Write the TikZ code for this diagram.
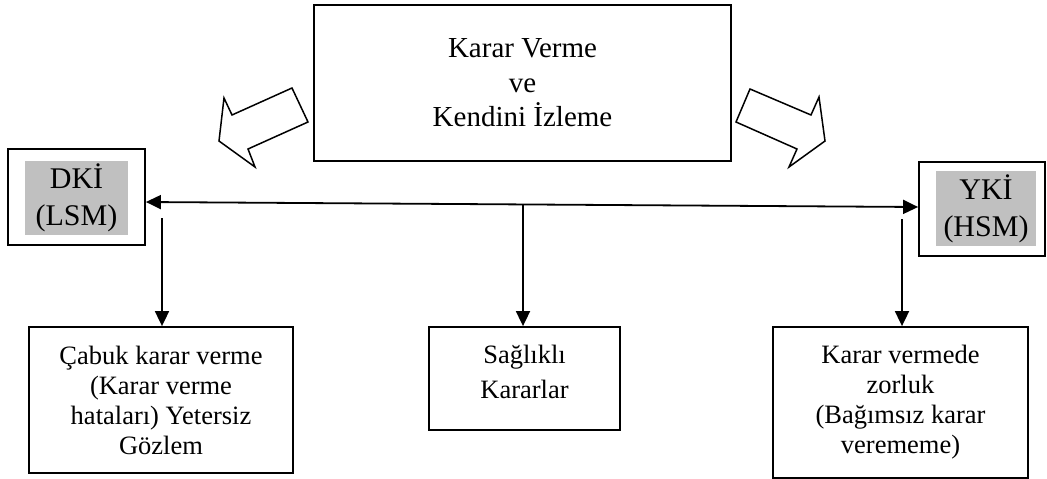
\documentclass[tikz,border=0pt]{standalone}
\usepackage{fontspec}
\setmainfont{Liberation Serif}
\usetikzlibrary{arrows.meta,calc}
\definecolor{boxgray}{RGB}{192,192,192}
\begin{document}
\begin{tikzpicture}[x=1pt,y=-1pt,
  frame/.style={draw=black, line width=1.8pt, rectangle, inner sep=0pt, align=center},
  shade/.style={fill=boxgray, rectangle, inner sep=0pt, align=center},
  tip/.style={line width=1.8pt},
  link/.style={tip, -{Triangle[length=15pt,width=14pt]}},
  both/.style={tip, {Triangle[length=15pt,width=14pt]}-{Triangle[length=15pt,width=14pt]}},
  hollow/.style={draw=black, line width=1.5pt, line join=miter, fill=white},
  bodytext/.style={font=\fontsize{26.5}{30}\selectfont},
  labeltext/.style={font=\fontsize{30}{37}\selectfont}]
\useasboundingbox (0,0) rectangle (1047,479);

% central topic
\node[frame, minimum width=417pt, minimum height=156pt,
      font=\fontsize{29}{34.5}\selectfont] (top) at (522.5,83)
      {Karar Verme\\ve\\Kendini İzleme};

% hollow block arrows pointing to both ends
\draw[hollow] (292,88) -- (308,122) -- (248,149) -- (255,167) -- (219,141)
              -- (224,98) -- (232,115) -- cycle;
\draw[hollow] (750,89) -- (811,115) -- (819,97) -- (825,141) -- (789,167)
              -- (797,149) -- (736,122) -- cycle;

% end labels: framed box with grey field
\node[frame, minimum width=137pt, minimum height=96pt] (dki) at (76.5,197) {};
\node[shade, labeltext, minimum width=103pt, minimum height=74pt] (dkilabel) at (76.5,198) {DKİ\\(LSM)};
\node[frame, minimum width=126pt, minimum height=94pt] (yki) at (982,209) {};
\node[shade, labeltext, minimum width=100pt, minimum height=75pt] (ykilabel) at (986,208.5) {YKİ\\(HSM)};

% outcome boxes
\node[frame, bodytext, minimum width=264pt, minimum height=146pt] (fast) at (161,400)
      {Çabuk karar verme\\(Karar verme\\hataları) Yetersiz\\Gözlem};
\node[frame, minimum width=191pt, minimum height=103pt] (healthy) at (524.5,378.5) {};
\node[bodytext, align=center, inner sep=0pt] (healthytext) at (524.5,372)
      {Sağlıklı\\[5pt]Kararlar};
\node[frame, bodytext, minimum width=255pt, minimum height=151pt] (hard) at (900.5,402.5)
      {Karar vermede\\zorluk\\(Bağımsız karar\\verememe)};

% continuum line between the two ends
\draw[both] ([yshift=-5pt]dki.east) -- ([yshift=2pt]yki.west);

% drops to the outcomes
\coordinate (fastfrom) at (162,218);
\coordinate (healthyfrom) at (523,205);
\coordinate (hardfrom) at (902,219);
\draw[link] (fastfrom) -- (fastfrom |- fast.north);
\draw[link] (healthyfrom) -- (healthyfrom |- healthy.north);
\draw[link] (hardfrom) -- (hardfrom |- hard.north);
\end{tikzpicture}
\end{document}
